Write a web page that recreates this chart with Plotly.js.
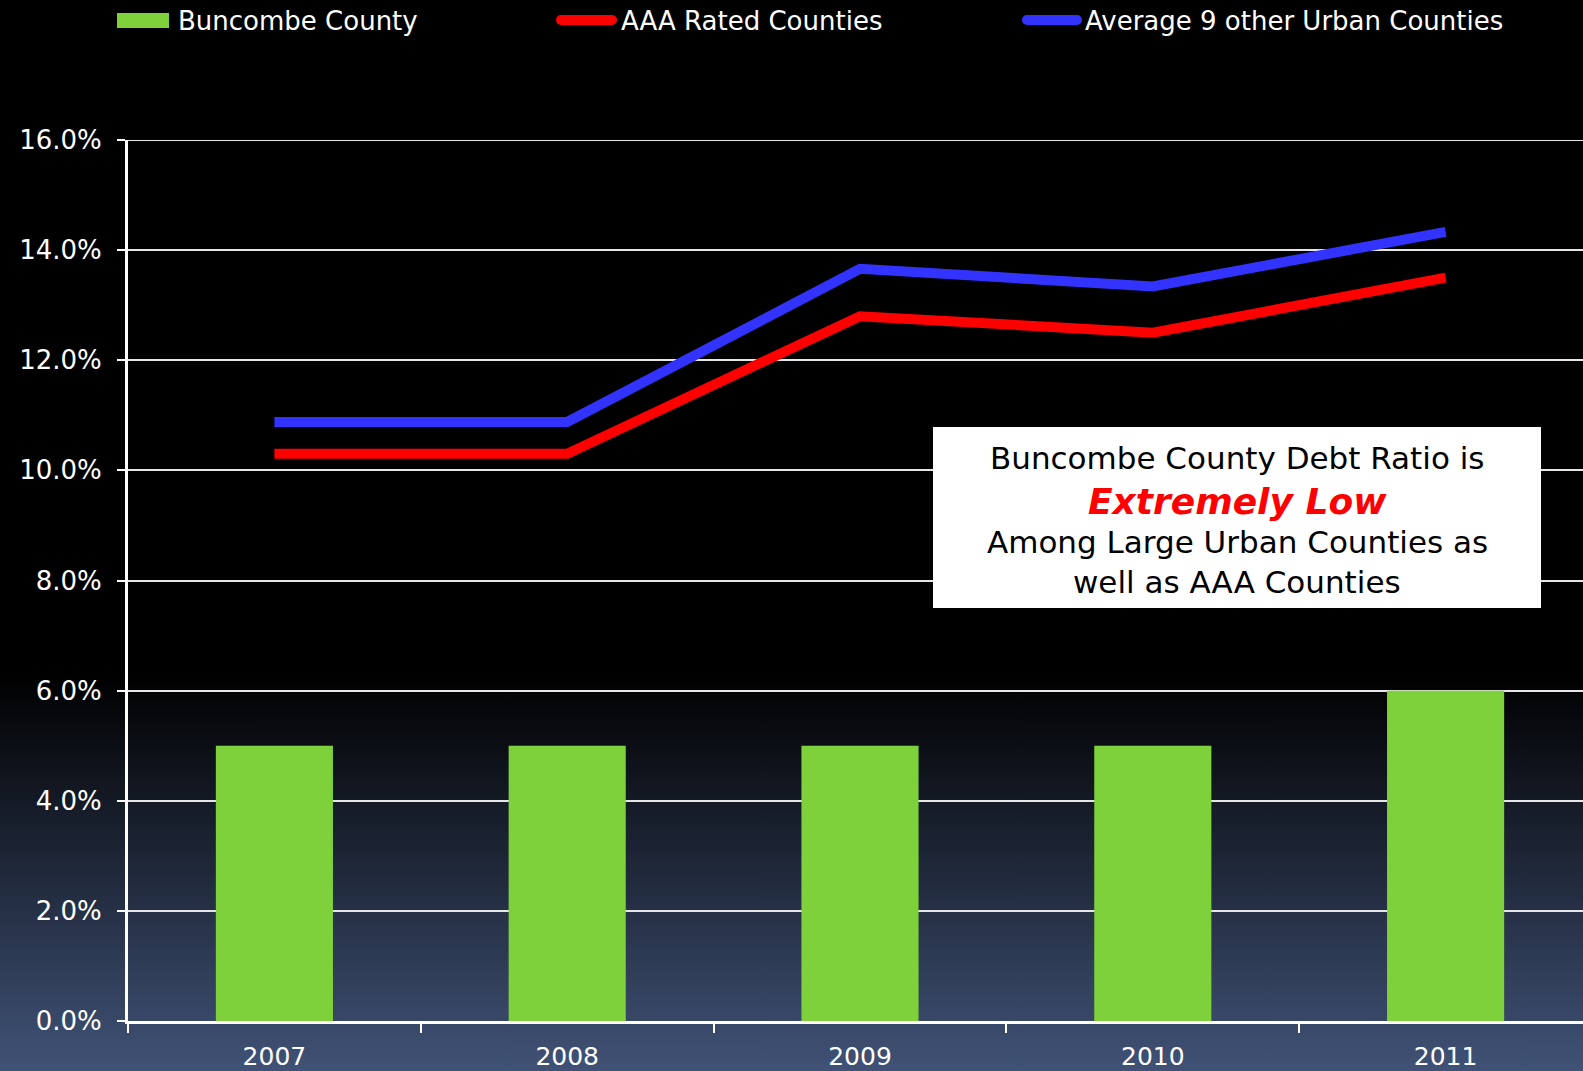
<!DOCTYPE html>
<html><head><meta charset="utf-8">
<script src="https://cdn.plot.ly/plotly-3.0.1.min.js"></script>
<style>
html,body{margin:0;padding:0;width:1583px;height:1071px;overflow:hidden;
background:linear-gradient(to bottom,#000000 0px,#000000 675px,#405276 1071px);}
#chart{width:1583px;height:1071px;}
</style></head><body><div id="chart"></div>
<script>
const years=['2007','2008','2009','2010','2011'];
const buncombe=[5.0,5.0,5.0,5.0,6.0];
const aaaRated=[10.3,10.3,12.8,12.5,13.5];
const urbanAvg=[10.88,10.88,13.66,13.34,14.33];
const seriesNames=['Buncombe County','AAA Rated Counties','Average 9 other Urban Counties'];
const seriesColors=['#7fd13b','#ff0000','#3333ff'];
const yTicks=[0,2,4,6,8,10,12,14,16];
const yTickText=yTicks.map(v=>v.toFixed(1)+'%');
const noteLines=['Buncombe County Debt Ratio is','<b><i>Extremely Low</i></b>','Among Large Urban Counties as','well as AAA Counties'];

const FONT='DejaVu Sans, Verdana, sans-serif';
const traces=[
 {type:'bar',x:years,y:buncombe,name:seriesNames[0],marker:{color:seriesColors[0]},showlegend:false},
 {type:'scatter',mode:'lines',x:years,y:aaaRated,name:seriesNames[1],line:{color:seriesColors[1],width:10},showlegend:false},
 {type:'scatter',mode:'lines',x:years,y:urbanAvg,name:seriesNames[2],line:{color:seriesColors[2],width:10},showlegend:false}
];
const L=128,T=140,W=1583-128,H=1021-140;
const px=x=>(x-L)/W, py=y=>(1021-y)/H;
const noteY=[458,501,542,582];
const noteSize=[31,36,31,31];
const annotations=noteLines.map((t,i)=>({xref:'paper',yref:'paper',x:px(1237),y:py(noteY[i]),
 xanchor:'center',yanchor:'middle',showarrow:false,text:t,
 font:{family:FONT,size:noteSize[i],color:i===1?'#ff0000':'#000000'}}));
// legend (manual, to match the wide key swatches)
const legTextX=[176,619,1083];
seriesNames.forEach((n,i)=>annotations.push({xref:'paper',yref:'paper',x:px(legTextX[i]),y:py(21),
 xanchor:'left',yanchor:'middle',showarrow:false,text:n,font:{family:FONT,size:26,color:'#ffffff'}}));
const shapes=[
 {type:'line',xref:'paper',yref:'y',x0:0,x1:1,y0:16,y1:16,line:{color:'#e6e6e6',width:2},layer:'below'},
 {type:'rect',xref:'paper',yref:'paper',x0:px(933),x1:px(1541),y0:py(608),y1:py(427),
   fillcolor:'#ffffff',line:{width:0},layer:'above'},
 {type:'rect',xref:'paper',yref:'paper',x0:px(117),x1:px(169),y0:py(28),y1:py(13),
   fillcolor:seriesColors[0],line:{width:0}},
 {type:'line',xref:'paper',yref:'paper',x0:px(561),x1:px(612),y0:py(20),y1:py(20),
   line:{color:seriesColors[1],width:10}},
 {type:'line',xref:'paper',yref:'paper',x0:px(1027),x1:px(1077),y0:py(20),y1:py(20),
   line:{color:seriesColors[2],width:10}},
 {type:'circle',xref:'paper',yref:'paper',x0:px(556),x1:px(566),y0:py(25),y1:py(15),fillcolor:seriesColors[1],line:{width:0}},
 {type:'circle',xref:'paper',yref:'paper',x0:px(607),x1:px(617),y0:py(25),y1:py(15),fillcolor:seriesColors[1],line:{width:0}},
 {type:'circle',xref:'paper',yref:'paper',x0:px(1022),x1:px(1032),y0:py(25),y1:py(15),fillcolor:seriesColors[2],line:{width:0}},
 {type:'circle',xref:'paper',yref:'paper',x0:px(1072),x1:px(1082),y0:py(25),y1:py(15),fillcolor:seriesColors[2],line:{width:0}}
];
const layout={
 width:1583,height:1071,
 paper_bgcolor:'rgba(0,0,0,0)',plot_bgcolor:'rgba(0,0,0,0)',
 margin:{l:L,r:0,t:T,b:50,pad:0},
 bargap:0.6,
 showlegend:false,
 xaxis:{type:'category',range:[-0.5,-0.5+W/292.8],showline:true,linecolor:'#ffffff',linewidth:3,
   ticks:'outside',tickson:'boundaries',ticklen:9,tickwidth:2,tickcolor:'#ffffff',
   showgrid:false,tickfont:{family:FONT,size:25,color:'#ffffff'},ticklabelstandoff:11,fixedrange:true},
 yaxis:{range:[0,16],tickvals:yTicks,ticktext:yTickText,showline:true,linecolor:'#ffffff',linewidth:3,
   ticks:'outside',ticklen:8,tickwidth:2,tickcolor:'#ffffff',
   showgrid:true,gridcolor:'#e6e6e6',gridwidth:2,zeroline:false,
   tickfont:{family:FONT,size:26,color:'#ffffff'},ticklabelstandoff:10,fixedrange:true},
 shapes:shapes,
 annotations:annotations
};
Plotly.newPlot('chart',traces,layout,{displayModeBar:false,staticPlot:true});
</script></body></html>
